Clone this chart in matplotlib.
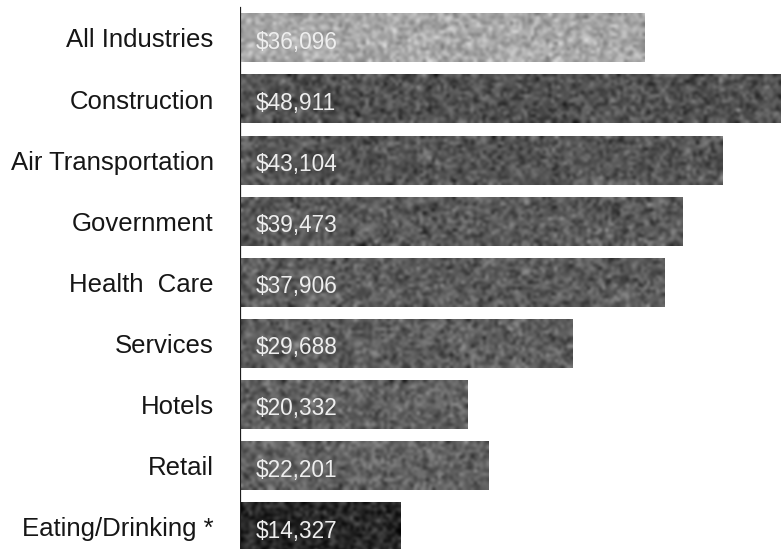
import numpy as np
import matplotlib
matplotlib.use("Agg")
import matplotlib.pyplot as plt

plt.rcParams["font.family"] = ["Liberation Sans", "DejaVu Sans"]

# average annual wage by industry
industries = ["All Industries", "Construction", "Air Transportation", "Government",
              "Health  Care", "Services", "Hotels", "Retail", "Eating/Drinking *"]
wages = [36096, 48911, 43104, 39473, 37906, 29688, 20332, 22201, 14327]
shades = ["#a9a9a9", "#525252", "#565656", "#5a5a5a", "#5c5c5c",
          "#5e5e5e", "#606060", "#626262", "#282828"]

fig = plt.figure(figsize=(7.81, 5.49), dpi=100)
fig.patch.set_facecolor("white")
ax = fig.add_axes([240 / 781, 0, 541 / 781, 1])

y = np.arange(len(industries))
bars = ax.barh(y, wages, height=0.8, color=shades, edgecolor="none", zorder=1)

# speckled print texture over each bar
rng = np.random.default_rng(7)
for b, c in zip(bars, shades):
    base = matplotlib.colors.to_rgb(c)[0]
    w_px = max(int(b.get_width() * 541 / 48300), 2)
    grain = rng.normal(0, 0.1, (49 // 3 + 1, w_px // 3 + 1))
    tex = np.clip(base + grain, 0, 1)
    x0, y0 = b.get_x(), b.get_y()
    ax.imshow(tex, cmap="gray", vmin=0, vmax=1, aspect="auto",
              interpolation="bicubic",
              extent=(x0, x0 + b.get_width(), y0 + b.get_height(), y0), zorder=2)

ax.set_xlim(0, 48300)
ax.set_ylim(8.36, -0.62)

for i, v in enumerate(wages):
    ax.annotate(f"${v:,}", xy=(0, i), xytext=(11, -3), textcoords="offset points",
                va="center", ha="left", fontsize=16.3, color="#eeeeee", zorder=3)

ax.set_yticks(y, industries)
ax.tick_params(axis="y", length=0, pad=19, labelsize=18.5, labelcolor="#161616")
ax.set_xticks([])
for s in ax.spines.values():
    s.set_visible(False)
ax.axvline(0, ymin=0, ymax=1 - 8 / 549, color="#1e1e1e", lw=1.6, zorder=4)

fig.savefig("out.png", dpi=100, facecolor="white")
